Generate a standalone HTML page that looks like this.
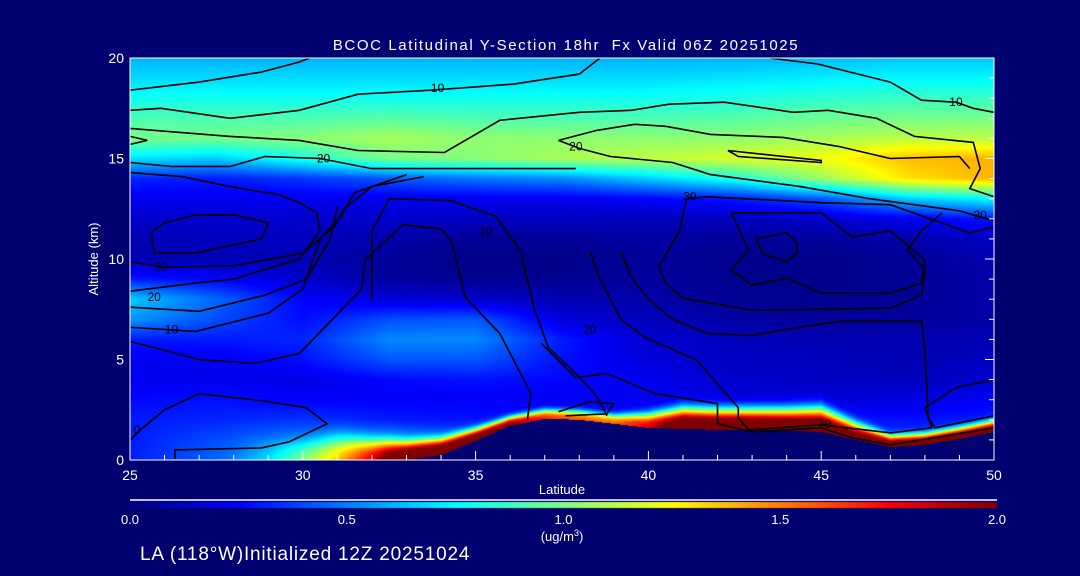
<!DOCTYPE html>
<html><head><meta charset="utf-8">
<style>
html,body{margin:0;padding:0;background:#000070;}
#wrap{position:relative;width:1080px;height:576px;background:#000070;overflow:hidden;font-family:"Liberation Sans",sans-serif;color:#fff;}
canvas{position:absolute;left:0;top:0;}
svg{position:absolute;left:0;top:0;}
</style></head>
<body>
<div id="wrap">
<canvas id="fill" width="1080" height="576"></canvas>
<svg id="ov" width="1080" height="576"></svg>
</div>
<script>
// ---- data ----
const lats = [25,27.5,30,32.5,35,37.5,40,42.5,45,47.5,50];
const alts = [0,1,2,3,4,5,6,7,8,9,10,11,12,13,14,15,16,17,18,19,20];
const a0 =[0.3,0.45,0.7,0.85,0.5,0.4,0.4,0.4,0.4,0.4,0.4];
const a1 =[0.3,0.4,0.5,0.55,0.4,0.35,0.35,0.35,0.35,0.35,0.35];
const a2 =[0.3,0.32,0.35,0.3,0.28,0.26,0.28,0.28,0.28,0.28,0.3];
const a3 =[0.26,0.28,0.24,0.24,0.24,0.22,0.22,0.18,0.18,0.18,0.24];
const a4 =[0.22,0.22,0.2,0.26,0.28,0.26,0.22,0.15,0.13,0.12,0.16];
const a5 =[0.22,0.22,0.28,0.42,0.42,0.28,0.18,0.13,0.12,0.1,0.13];
const a6 =[0.3,0.3,0.32,0.52,0.52,0.3,0.16,0.12,0.1,0.1,0.1];
const a7 =[0.55,0.4,0.27,0.4,0.42,0.18,0.12,0.07,0.05,0.05,0.08];
const a8 =[0.65,0.45,0.25,0.18,0.15,0.1,0.08,0.04,0.03,0.04,0.08];
const a9 =[0.3,0.25,0.15,0.06,0.03,0.03,0.06,0.03,0.02,0.04,0.08];
const a10=[0.1,0.1,0.1,0.05,0.02,0.02,0.05,0.03,0.02,0.05,0.1];
const a11=[0.1,0.12,0.13,0.08,0.04,0.05,0.07,0.05,0.05,0.08,0.13];
const a12=[0.15,0.15,0.15,0.15,0.13,0.12,0.12,0.12,0.15,0.22,0.3];
const a13=[0.22,0.22,0.22,0.22,0.22,0.22,0.25,0.3,0.42,0.65,0.75];
const a14=[0.32,0.3,0.35,0.42,0.48,0.52,0.65,0.8,1.05,1.3,1.4];
const a15=[0.7,0.65,0.8,0.98,1.02,1.08,1.12,1.18,1.22,1.38,1.4];
const a16=[0.98,0.98,1.02,1.08,1.03,1.03,1.03,1.03,1.08,1.12,1.12];
const a17=[0.9,0.9,0.9,0.92,0.9,0.9,0.9,0.92,0.96,0.98,0.98];
const a18=[0.78,0.78,0.78,0.78,0.78,0.78,0.78,0.8,0.84,0.86,0.86];
const a19=[0.68,0.68,0.68,0.68,0.68,0.68,0.68,0.7,0.72,0.74,0.74];
const a20=[0.6,0.6,0.6,0.6,0.6,0.6,0.6,0.6,0.62,0.64,0.64];
const grid=[a0,a1,a2,a3,a4,a5,a6,a7,a8,a9,a10,a11,a12,a13,a14,a15,a16,a17,a18,a19,a20];
// terrain and surface layer, per 1 degree latitude
const tLats = [25,26,27,28,29,30,31,32,33,34,35,36,37,38,39,40,41,42,43,44,45,46,47,48,49,50];
const terrain=[0,0,0,0,0,0,0,0,0,0.25,0.95,1.7,2.05,2.0,1.8,1.6,1.55,1.5,1.5,1.45,1.4,1.0,0.65,0.75,1.05,1.4];
const sfcAmp =[0,0,0,0,0.1,0.3,0.6,1.0,1.6,1.8,1.8,1.7,1.4,1.3,1.25,1.5,2.0,2.0,2.0,2.0,2.0,1.8,1.8,1.8,1.8,1.8];
const sfcDepth=[1,1,1,1,1,1,1.2,1.0,0.9,0.8,0.6,0.45,0.45,0.45,0.45,0.7,1.0,1.0,1.0,1.05,1.15,0.8,0.55,0.55,0.55,0.55];
// contours as [lat, alt] polylines
const contours=[
 [[25,18.4],[27,18.8],[28.8,19.3],[29.9,19.8],[30.2,20]],
 [[25,17.4],[25.9,17.5],[27.9,17.0],[29.9,17.4],[31.6,18.2],[33.7,18.4],[36.1,18.7],[38.0,19.2],[38.6,20]],
 [[25,16.5],[27.9,16.1],[29.9,15.9],[31.6,15.4],[34.1,15.3],[35.7,16.9],[38,17.3],[39.5,17.4],[40.6,17.7],[42.2,17.8],[44.2,17.3],[45.2,17.4],[46.6,17.0],[47.7,16.1],[49.4,15.8],[49.6,14.5],[49.3,13.5],[50,13.1]],
 [[43.5,20],[44.9,19.7],[47,18.8],[47.9,17.9],[48.9,17.8],[49.4,17.5],[50,17.3]],
 [[25,14.8],[26.2,14.6],[27.9,14.6],[28.9,15.1],[30.5,15.0],[32,14.5],[33.6,14.5],[37.9,14.5]],
 [[25,15.7],[25.5,15.9],[25,16.1]],
 [[37.4,15.9],[38.5,16.4],[39.6,16.7],[40.5,16.6],[41.8,16.2],[43.9,16.05],[45.5,15.6],[47,15.0],[49,15.1],[49.3,14.5]],
 [[37.4,15.9],[38,15.5],[38.9,15.1],[40.7,14.8],[41.8,14.2],[44.4,13.6],[46.4,13.0],[49,12.4],[50,11.9]],
 [[42.3,15.4],[45,14.9],[45,14.8],[42.6,15.1],[42.3,15.4]],
 [[25.6,11.3],[26.0,11.8],[26.9,12.2],[28.0,12.2],[29.0,11.8],[28.8,11.0],[26.9,10.3],[25.7,10.3],[25.6,11.3]],
 [[25,14.3],[26.5,14.1],[27.9,13.6],[29.3,13.2],[29.9,12.8],[30.4,12.3],[30.5,11.4],[29.9,10.0],[28.0,9.0],[26.9,8.8],[25,8.4]],
 [[25,9.85],[26,9.6],[28,9.65],[30,10.3],[30.9,11.6],[31.2,12.5],[32,13.6],[33.5,14.1]],
 [[25,7.6],[27,7.4],[28.9,8.2],[30.1,9.0],[30.8,11.0],[31.0,12.6]],
 [[25,6.6],[26.9,6.4],[29,7.3],[30,8.5],[30.5,11],[31.1,12.1],[31.5,13.3],[33,14.2]],
 [[25,5.9],[27,5.0],[28.6,4.8],[29.9,5.3],[31.7,8.5],[31.8,9.95],[32.9,11.7],[34,11.5],[34.3,10.9],[34.7,8.1],[35.7,6.3],[36.6,3.3],[36.5,2.0]],
 [[32.0,7.95],[32.0,11.4],[32.5,13.0],[34.3,12.9],[35.6,12.1],[36.3,10.4],[36.7,7.5],[37.1,5.6],[37.9,4.3],[38.5,3.2],[38.8,2.2]],
 [[26.3,0.05],[26.3,0.5],[28.8,0.6],[29.6,0.9],[30.7,1.8],[30.1,2.6],[28.8,2.95],[27,3.3],[26,2.5],[25.3,1.5],[25,1.0]],
 [[50,11.6],[49.3,11.3],[47,12.7],[45,12.8],[41.7,13.1],[41.1,13.0],[40.9,11.4],[40.3,9.6],[40.5,8.8],[41,8.05],[43,7.45],[47,7.55],[47.9,8.2],[48,9.45],[47.5,10.45],[47.9,11.4],[48.5,12.3]],
 [[42.4,12.3],[45,12.3],[45.9,11.1],[47,11.4],[48,9.95],[47.9,8.8],[47,8.3],[45,8.3],[44,9.05],[43,8.7],[42.4,9.45],[42.9,10.45],[42.4,12.3]],
 [[43.1,11.0],[44,11.3],[44.3,10.8],[44.3,10.3],[44,9.85],[43.3,10.3],[43.1,11.0]],
 [[39.2,10.4],[39.5,9.1],[40,8.0],[40.7,7.0],[41.7,6.3],[43,6.2],[44,6.5],[45.5,6.9],[47.9,6.9],[48,5.5],[48.1,2.1],[48.3,1.6],[50,2.2]],
 [[36.9,5.8],[37.9,4.1],[38.8,4.3],[40.2,3.3],[42,2.8],[42,1.8],[43,1.4],[45,1.6],[45.9,1.1],[47,0.75],[50,1.6]],
 [[38.3,10.4],[38.6,9.0],[39.2,7.0],[39.9,6.1],[41.4,4.97],[42.6,2.6],[42.6,2.1],[42.9,1.5],[45,1.75],[47,1.35],[48.2,1.6],[48,2.6],[48.9,3.6],[50,4.0]],
 [[37.4,2.4],[38.3,2.9],[39.0,2.8],[38.8,2.3],[37.6,2.2]]
];
const cLabelText=["10","10","20","20","20","30","20","10","10","30","20","70","0"];
const cLabelLat =[33.9,48.9,30.6,37.9,49.6,25.9,25.7,26.2,35.3,41.2,38.3,45.1,25.2];
const cLabelAlt =[18.5,17.8,15.0,15.6,12.2,9.6,8.1,6.5,11.4,13.1,6.5,1.8,1.5];
const xTickVals=[25,30,35,40,45,50];
const yTickVals=[0,5,10,15,20];
const cbTicks=[0.0,0.5,1.0,1.5,2.0];

// ---- axes ----
const X0=130,X1=994,Y0=460,Y1=58;
const xs=l=>X0+(l-25)/25*(X1-X0);
const ys=a=>Y0-(a/20)*(Y0-Y1);
const cbx=v=>130+v/2*(997-130);

function jet(v){
  let t=Math.max(0,Math.min(1,v/2));
  const f=(c)=>Math.max(0,Math.min(1,1.5-Math.abs(4*t-c)));
  return [f(3)*255,f(2)*255,f(1)*255];
}
function interp1(arr,xsArr,x){
  if(x<=xsArr[0])return arr[0];
  for(let i=0;i<xsArr.length-1;i++){
    if(x<=xsArr[i+1]){const f=(x-xsArr[i])/(xsArr[i+1]-xsArr[i]);return arr[i]*(1-f)+arr[i+1]*f;}
  }
  return arr[arr.length-1];
}
function base(lat,alt){
  let ai=Math.min(19,Math.max(0,Math.floor(alt))); let fa=Math.max(0,Math.min(1,alt-ai));
  let li=Math.min(9,Math.max(0,Math.floor((lat-25)/2.5))); let fl=Math.max(0,Math.min(1,(lat-lats[li])/2.5));
  const g=grid;
  return (g[ai][li]*(1-fl)+g[ai][li+1]*fl)*(1-fa)+(g[ai+1][li]*(1-fl)+g[ai+1][li+1]*fl)*fa;
}
// ---- fill ----
const cv=document.getElementById('fill'),ctx=cv.getContext('2d');
ctx.fillStyle='#000070';ctx.fillRect(0,0,1080,576);
const W=X1-X0,H=Y0-Y1;
const img=ctx.createImageData(W,H);
for(let px=0;px<W;px++){
  const lat=25+(px+0.5)/W*25;
  const tr=interp1(terrain,tLats,lat),amp=interp1(sfcAmp,tLats,lat),dep=interp1(sfcDepth,tLats,lat);
  for(let py=0;py<H;py++){
    const alt=(H-py-0.5)/H*20;
    const k=(py*W+px)*4;
    if(alt<tr){img.data[k]=0;img.data[k+1]=0;img.data[k+2]=112;img.data[k+3]=255;continue;}
    const h=alt-tr;
    let v=base(lat,alt)+amp*Math.exp(-Math.pow(h/dep,3));
    const c=jet(v);
    img.data[k]=c[0];img.data[k+1]=c[1];img.data[k+2]=c[2];img.data[k+3]=255;
  }
}
ctx.putImageData(img,X0,Y1);
// colorbar
for(let x=130;x<997;x++){const c=jet((x-130)/(997-130)*2);ctx.fillStyle=`rgb(${c[0]|0},${c[1]|0},${c[2]|0})`;ctx.fillRect(x,502,1,6);}

// ---- overlay ----
const NS='http://www.w3.org/2000/svg';
const ov=document.getElementById('ov');
function mk(tag,attrs,parent){const e=document.createElementNS(NS,tag);for(const k in attrs)e.setAttribute(k,attrs[k]);(parent||ov).appendChild(e);return e;}
function txt(s,x,y,size,anchor,name){const t=mk('text',{x:x,y:y,'font-size':size,fill:'#fff','text-anchor':anchor||'middle','font-family':'Liberation Sans, sans-serif'});t.textContent=s;


return t;}

contours.forEach((c,i)=>{
  const p=mk('polyline',{points:c.map(q=>xs(q[0]).toFixed(1)+','+ys(q[1]).toFixed(1)).join(' '),fill:'none',stroke:'#000',"stroke-width":1.6});
  
  
});
cLabelText.forEach((s,i)=>{
  const t=mk('text',{x:xs(cLabelLat[i]),y:ys(cLabelAlt[i])+4,'font-size':12,fill:'#000','text-anchor':'middle','font-family':'Liberation Sans, sans-serif'});
  t.textContent=s;
  
  
});

// frame
const fr=mk('rect',{x:X0,y:Y1,width:X1-X0,height:Y0-Y1,fill:'none',stroke:'#fff','stroke-width':1});


for(let l=25;l<=50;l++){
  const major=xTickVals.includes(l);
  const t=mk('line',{x1:xs(l),x2:xs(l),y1:Y0,y2:Y0-(major?9:5),stroke:'#fff','stroke-width':1});
  
  
}
xTickVals.forEach(v=>txt(String(v),xs(v),480,14,'middle','x-tick-label'));
yTickVals.forEach(v=>{
  const t=mk('line',{x1:X1,x2:X1-9,y1:ys(v),y2:ys(v),stroke:'#fff','stroke-width':1});
  
  
  txt(String(v),124,ys(v)+5,14,'end','y-tick-label');
});
for(let a=1;a<20;a++){
  const t=mk('line',{x1:X1,x2:X1-5,y1:ys(a),y2:ys(a),stroke:'#fff','stroke-width':1});
  
  
}
const tt=txt('BCOC Latitudinal Y-Section 18hr  Fx Valid 06Z 20251025',566,50,15,'middle','chart-title');
tt.setAttribute('letter-spacing','1.6');
tt.setAttribute('style','white-space:pre');
txt('Latitude',562,494,13,'middle','x-axis-title');
const yt=txt('Altitude (km)',0,0,13,'middle','y-axis-title');
yt.setAttribute('transform','translate(98,259) rotate(-90)');
const cbl=mk('line',{x1:130,x2:997,y1:500,y2:500,stroke:'#fff','stroke-width':1.5});


cbTicks.forEach(v=>txt(v.toFixed(1),cbx(v),524,13,'middle','colorbar-tick-label'));
const u=txt('',562,541,13,'middle','colorbar-units');
u.innerHTML='(ug/m<tspan font-size="9" dy="-5">3</tspan><tspan dy="5">)</tspan>';
const ft=txt('LA (118°W)Initialized 12Z 20251024',140,560,19,'start','footer-init-text');
ft.setAttribute('letter-spacing','0.8');
</script>
</body></html>
